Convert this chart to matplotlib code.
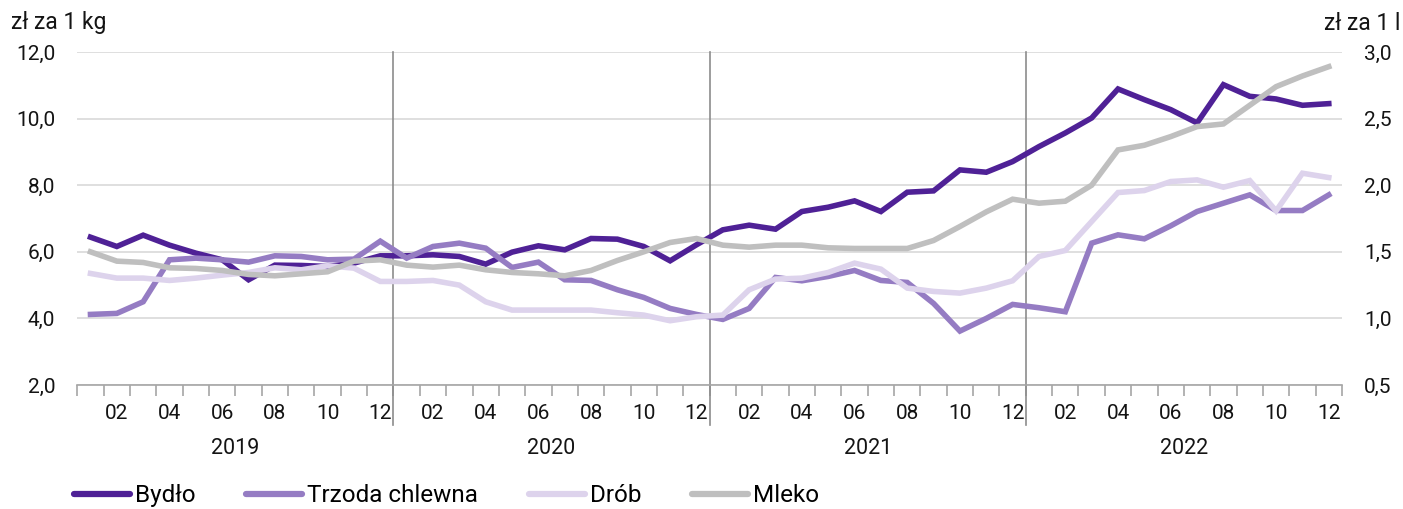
import numpy as np
import matplotlib
matplotlib.use("Agg")
import matplotlib.pyplot as plt
from matplotlib.lines import Line2D

plt.rcParams['font.family'] = ['Roboto', 'DejaVu Sans']

# dane miesieczne 2019-01 .. 2022-12
lata = ["2019", "2020", "2021", "2022"]
miesiace = ["02", "04", "06", "08", "10", "12"]

bydlo = [6.44, 6.16, 6.50, 6.20, 5.96, 5.76, 5.16, 5.60, 5.59, 5.56, 5.66, 5.88,
         5.88, 5.91, 5.86, 5.63, 5.99, 6.18, 6.06, 6.40, 6.38, 6.16, 5.73, 6.21,
         6.66, 6.80, 6.68, 7.21, 7.34, 7.53, 7.21, 7.79, 7.83, 8.46, 8.39, 8.71,
         9.16, 9.57, 10.02, 10.89, 10.57, 10.27, 9.87, 11.02, 10.67, 10.59, 10.40, 10.45]
trzoda = [4.12, 4.15, 4.50, 5.76, 5.81, 5.76, 5.69, 5.88, 5.86, 5.76, 5.78, 6.32,
          5.81, 6.16, 6.26, 6.11, 5.53, 5.69, 5.16, 5.14, 4.86, 4.63, 4.30, 4.12,
          3.97, 4.30, 5.23, 5.13, 5.26, 5.44, 5.14, 5.08, 4.45, 3.62, 4.00, 4.42,
          4.32, 4.20, 6.26, 6.51, 6.39, 6.78, 7.21, 7.46, 7.71, 7.24, 7.24, 7.71]
drob = [5.35, 5.21, 5.21, 5.14, 5.21, 5.30, 5.38, 5.52, 5.46, 5.58, 5.51, 5.11,
        5.11, 5.14, 5.00, 4.50, 4.25, 4.25, 4.25, 4.25, 4.17, 4.10, 3.93, 4.05,
        4.10, 4.86, 5.18, 5.21, 5.38, 5.66, 5.48, 4.91, 4.81, 4.76, 4.91, 5.13,
        5.86, 6.04, 6.91, 7.78, 7.84, 8.11, 8.16, 7.94, 8.14, 7.23, 8.36, 8.23]
mleko = [1.50, 1.43, 1.42, 1.38, 1.375, 1.36, 1.33, 1.32, 1.335, 1.35, 1.43, 1.44,
         1.40, 1.385, 1.40, 1.365, 1.345, 1.335, 1.32, 1.36, 1.435, 1.50, 1.57, 1.60,
         1.55, 1.535, 1.55, 1.55, 1.53, 1.525, 1.525, 1.525, 1.585, 1.69, 1.80, 1.895,
         1.865, 1.88, 2.00, 2.265, 2.30, 2.365, 2.44, 2.46, 2.60, 2.74, 2.82, 2.89]

c_bydlo = '#4f2196'
c_trzoda = '#957cc3'
c_drob = '#ddd3ec'
c_mleko = '#bfbfbf'
c_txt = '#141414'

x = np.arange(48)
fig = plt.figure(figsize=(14.03, 5.09), dpi=100)
ax = fig.add_axes([0.0551, 0.2436, 0.9014, 0.6542])
ax2 = ax.twinx()

lw = 4
ax.plot(x, bydlo, color=c_bydlo, lw=lw, solid_joinstyle='miter', zorder=3)
ax.plot(x, trzoda, color=c_trzoda, lw=lw, solid_joinstyle='miter', zorder=3)
ax.plot(x, drob, color=c_drob, lw=lw, solid_joinstyle='miter', zorder=3)
ax2.plot(x, mleko, color=c_mleko, lw=lw, solid_joinstyle='miter', zorder=3)

ax.set_xlim(-0.5, 47.5)
ax.set_ylim(2, 12)
ax2.set_ylim(0.5, 3.0)
ax.set_yticks(np.arange(2, 12.1, 2))
ax.set_yticklabels([f"{v:.1f}".replace('.', ',') for v in np.arange(2, 12.1, 2)])
ax2.set_yticks(np.arange(0.5, 3.01, 0.5))
ax2.set_yticklabels([f"{v:.1f}".replace('.', ',') for v in np.arange(0.5, 3.01, 0.5)])
ax.grid(axis='y', color='#d9d9d9', lw=1.2)
ax.set_axisbelow(True)

for a in (ax, ax2):
    for s in ('left', 'right', 'top'):
        a.spines[s].set_visible(False)
ax.spines['bottom'].set_color('#a6a6a6')
ax.spines['bottom'].set_linewidth(1.2)
ax2.spines['bottom'].set_visible(False)

ax.tick_params(axis='y', length=0, labelsize=15, pad=16, colors=c_txt)
ax2.tick_params(axis='y', length=0, labelsize=15, pad=16, colors=c_txt)

# ticki miesiecy
ax.set_xticks(np.arange(-0.5, 48, 1))
ax.set_xticklabels([])
ax.tick_params(axis='x', which='major', length=8, color='#a6a6a6', width=1.2)
ax.set_xticks([i * 12 + int(m) - 1 for i in range(4) for m in miesiace], minor=True)
ax.set_xticklabels(miesiace * 4, minor=True)
ax.tick_params(axis='x', which='minor', length=0, labelsize=15, pad=14, colors=c_txt)

tr = ax.get_xaxis_transform()
for i, rok in enumerate(lata):
    ax.text(i * 12 + 5.5, -0.19, rok, transform=tr, ha='center', va='center', fontsize=15.5, color=c_txt)
    if i > 0:
        ax.plot([i * 12 - 0.5] * 2, [1, -0.12], transform=tr, color='#8c8c8c', lw=1.2, clip_on=False, zorder=1)

fig.text(11 / 1403, 1 - 23 / 509, "zł za 1 kg", fontsize=16.5, va='center', ha='left', color=c_txt)
fig.text(1400 / 1403, 1 - 23 / 509, "zł za 1 l", fontsize=16.5, va='center', ha='right', color=c_txt)

handles = [Line2D([], [], color=c, lw=4.5, solid_capstyle='round') for c in (c_bydlo, c_trzoda, c_drob, c_mleko)]
fig.legend(handles, ["Bydło", "Trzoda chlewna", "Drób", "Mleko"], loc='center left',
           bbox_to_anchor=(74 / 1403, 0.026), ncol=4, frameon=False, fontsize=17.5,
           handlelength=2.3, handletextpad=0.2, columnspacing=2.1, borderpad=0, borderaxespad=0)

fig.savefig("out.png", dpi=100)
